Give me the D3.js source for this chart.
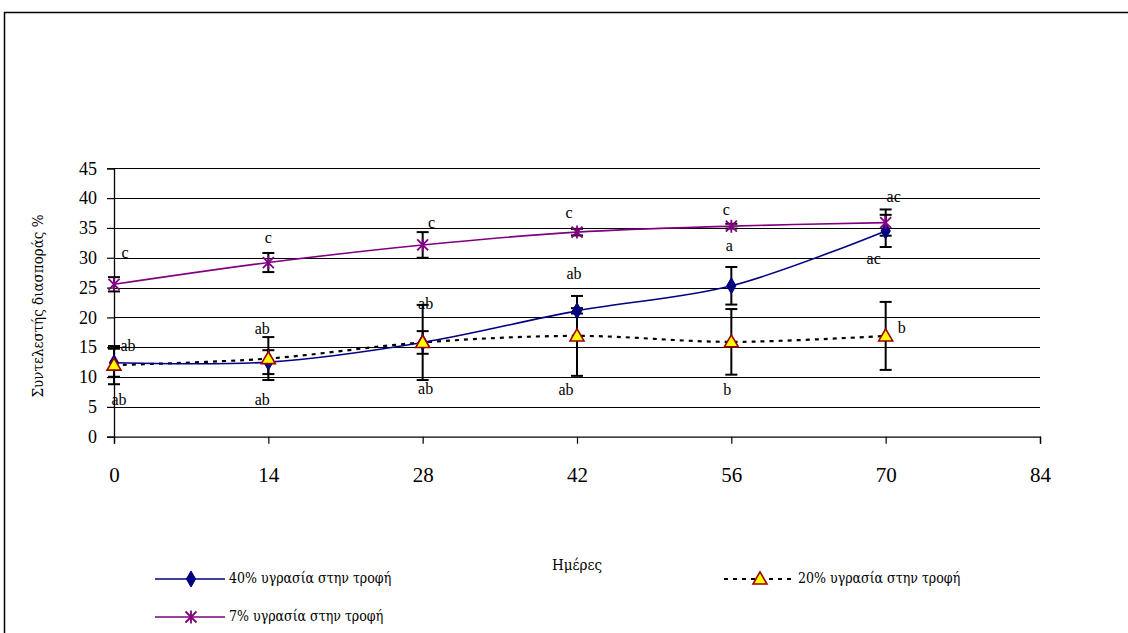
<!DOCTYPE html>
<html>
<head>
<meta charset="utf-8">
<script src="https://cdn.jsdelivr.net/npm/d3@7"></script>
<style>
  body { margin: 0; background: #fff; }
  svg { display: block; }
  text { font-family: "Liberation Serif", "Times New Roman", serif; fill: #000; }
  text.greek { font-family: "DejaVu Serif Condensed", "DejaVu Serif", "Liberation Serif", serif; }
</style>
</head>
<body>
<svg id="chart" width="1128" height="633"></svg>
<script>
// Sampling days and axis ticks
const days = [0, 14, 28, 42, 56, 70];
const xTicks = [0, 14, 28, 42, 56, 70, 84];
const yTicks = [0, 5, 10, 15, 20, 25, 30, 35, 40, 45];

// Coefficient of variation (%) and error for each moisture level
const mean40 = [12.4, 12.5, 15.8, 21.1, 25.3, 34.5];
const err40  = [2.35, 2.0, 1.9, 0.45, 3.15, 2.7];
const mean20 = [12.0, 13.1, 15.8, 16.9, 15.9, 16.9];
const err20  = [3.2, 3.6, 6.3, 6.7, 5.5, 5.7];
const mean7  = [25.55, 29.2, 32.15, 34.3, 35.3, 35.9];
const err7   = [1.2, 1.6, 2.15, 0.55, 0.4, 2.2];

// Significance letters and the level (in % units) at which each sits
const letters7  = ["c", "c", "c", "c", "c", "ac"];
const letters7At = [30.8, 33.4, 35.9, 37.5, 38.1, 40.2];
const letters40 = ["ab", "ab", "ab", "ab", "a", "ac"];
const letters40At = [15.3, 18.0, 22.2, 27.3, 32.0, 29.8];
const letters20 = ["ab", "ab", "ab", "ab", "b", "b"];
const letters20At = [6.2, 6.2, 8.0, 7.9, 7.9, 18.2];

const seriesNames = ["40% υγρασία στην τροφή", "20% υγρασία στην τροφή", "7% υγρασία στην τροφή"];
const xTitle = "Ημέρες";
const yTitle = "Συντελεστής διασποράς %";

const svg = d3.select("#chart");

// outer frame
svg.append("path").attr("d", "M4.5,640 V12.5 H1140")
  .attr("fill", "none").attr("stroke", "#000").attr("stroke-width", 1.5);

const x = d3.scaleLinear().domain([0, 84]).range([114, 1040]);
const y = d3.scaleLinear().domain([0, 45]).range([436.7, 168.3]);

// horizontal gridlines
svg.append("g").selectAll("line").data(yTicks.filter(d => d > 0)).join("line")
  .attr("x1", x(0)).attr("x2", x(84))
  .attr("y1", d => Math.round(y(d)) + 0.5).attr("y2", d => Math.round(y(d)) + 0.5)
  .attr("stroke", "#000").attr("stroke-width", 1);

// axes
const yAxis = svg.append("g").attr("transform", `translate(${x(0)},0)`)
  .call(d3.axisLeft(y).tickValues(yTicks).tickSize(7).tickPadding(10).tickFormat(d3.format("d")));
yAxis.selectAll("text").style("font-size", "18px");

const xAxis = svg.append("g").attr("transform", `translate(0,${y(0)})`)
  .call(d3.axisBottom(x).tickValues(xTicks).tickSize(7).tickPadding(23).tickFormat(d3.format("d")));
xAxis.selectAll("text").style("font-size", "21px");
svg.selectAll(".domain").attr("stroke", "#000").attr("stroke-width", 1.3);
svg.selectAll(".tick line").attr("stroke", "#000").attr("stroke-width", 1.2);

// axis titles
svg.append("text").attr("class", "greek").attr("x", x(42)).attr("y", 570).attr("text-anchor", "middle")
  .style("font-size", "15px").text(xTitle);
svg.append("text").attr("class", "greek").attr("transform", "translate(43,306) rotate(-90)").attr("text-anchor", "middle")
  .style("font-size", "15px").text(yTitle);

const smooth = d3.line().x((d, i) => x(days[i])).y(d => y(d)).curve(d3.curveCatmullRom.alpha(0.5));

// marker shapes
function diamond(g, cx, cy) {
  g.append("path").attr("d", d3.symbol(d3.symbolDiamond, 75)())
    .attr("transform", `translate(${cx},${cy})`).attr("fill", "#000080").attr("stroke", "#000080");
}
function triangle(g, cx, cy) {
  g.append("path").attr("d", d3.symbol(d3.symbolTriangle, 85)())
    .attr("transform", `translate(${cx},${cy + 1})`).attr("fill", "#ffff00")
    .attr("stroke", "#990000").attr("stroke-width", 1.6);
}
function asterisk(g, cx, cy) {
  const r = 5.5;
  g.append("path")
    .attr("d", `M${cx - r},${cy - r}L${cx + r},${cy + r}M${cx - r},${cy + r}L${cx + r},${cy - r}M${cx},${cy - r - 1}L${cx},${cy + r + 1}`)
    .attr("stroke", "#800080").attr("stroke-width", 1.8).attr("fill", "none");
}

// error bars
function errorBars(means, errs) {
  const g = svg.append("g").attr("stroke", "#000").attr("stroke-width", 2);
  means.forEach((m, i) => {
    const cx = x(days[i]);
    const top = y(m + errs[i]), bot = y(m - errs[i]);
    g.append("line").attr("x1", cx).attr("x2", cx).attr("y1", top).attr("y2", bot);
    g.append("line").attr("x1", cx - 6).attr("x2", cx + 6).attr("y1", top).attr("y2", top);
    g.append("line").attr("x1", cx - 6).attr("x2", cx + 6).attr("y1", bot).attr("y2", bot);
  });
}
errorBars(mean20, err20);
errorBars(mean40, err40);
errorBars(mean7, err7);

// series lines
svg.append("path").datum(mean20).attr("d", smooth)
  .attr("fill", "none").attr("stroke", "#000").attr("stroke-width", 2.2).attr("stroke-dasharray", "4,5");
svg.append("path").datum(mean40).attr("d", smooth)
  .attr("fill", "none").attr("stroke", "#000080").attr("stroke-width", 1.6);
svg.append("path").datum(mean7).attr("d", smooth)
  .attr("fill", "none").attr("stroke", "#800080").attr("stroke-width", 1.6);

const marks = svg.append("g");
mean40.forEach((m, i) => diamond(marks, x(days[i]), y(m)));
mean20.forEach((m, i) => triangle(marks, x(days[i]), y(m)));
mean7.forEach((m, i) => asterisk(marks, x(days[i]), y(m)));

// significance letters
const labelShift7 = [11, 0, 9, -8, -5, 8];
const labelShift40 = [14, -6, 3, -3, -2, -12];
const labelShift20 = [5, -6, 3, -11, -4, 16];
const lab = svg.append("g").style("font-size", "16px").attr("text-anchor", "middle");
function putLetters(letters, at, shift) {
  letters.forEach((t, i) => {
    lab.append("text").attr("x", x(days[i]) + shift[i]).attr("y", y(at[i])).attr("dy", "0.32em").text(t);
  });
}
putLetters(letters7, letters7At, labelShift7);
putLetters(letters40, letters40At, labelShift40);
putLetters(letters20, letters20At, labelShift20);

// legend
const legend = svg.append("g");
const legendRows = [
  { name: seriesNames[0], x0: 155, y0: 579, color: "#000080", dash: null, mark: diamond },
  { name: seriesNames[1], x0: 724, y0: 579, color: "#000", dash: "4,5", mark: triangle },
  { name: seriesNames[2], x0: 155, y0: 617, color: "#800080", dash: null, mark: asterisk }
];
legendRows.forEach(r => {
  legend.append("line").attr("x1", r.x0).attr("x2", r.x0 + 70).attr("y1", r.y0).attr("y2", r.y0)
    .attr("stroke", r.color).attr("stroke-width", r.dash ? 2.2 : 1.6).attr("stroke-dasharray", r.dash);
  r.mark(legend, r.x0 + 36, r.y0);
  legend.append("text").attr("class", "greek").attr("x", r.x0 + 74).attr("y", r.y0).attr("dy", "0.32em")
    .style("font-size", "14px").text(r.name);
});
</script>
</body>
</html>
